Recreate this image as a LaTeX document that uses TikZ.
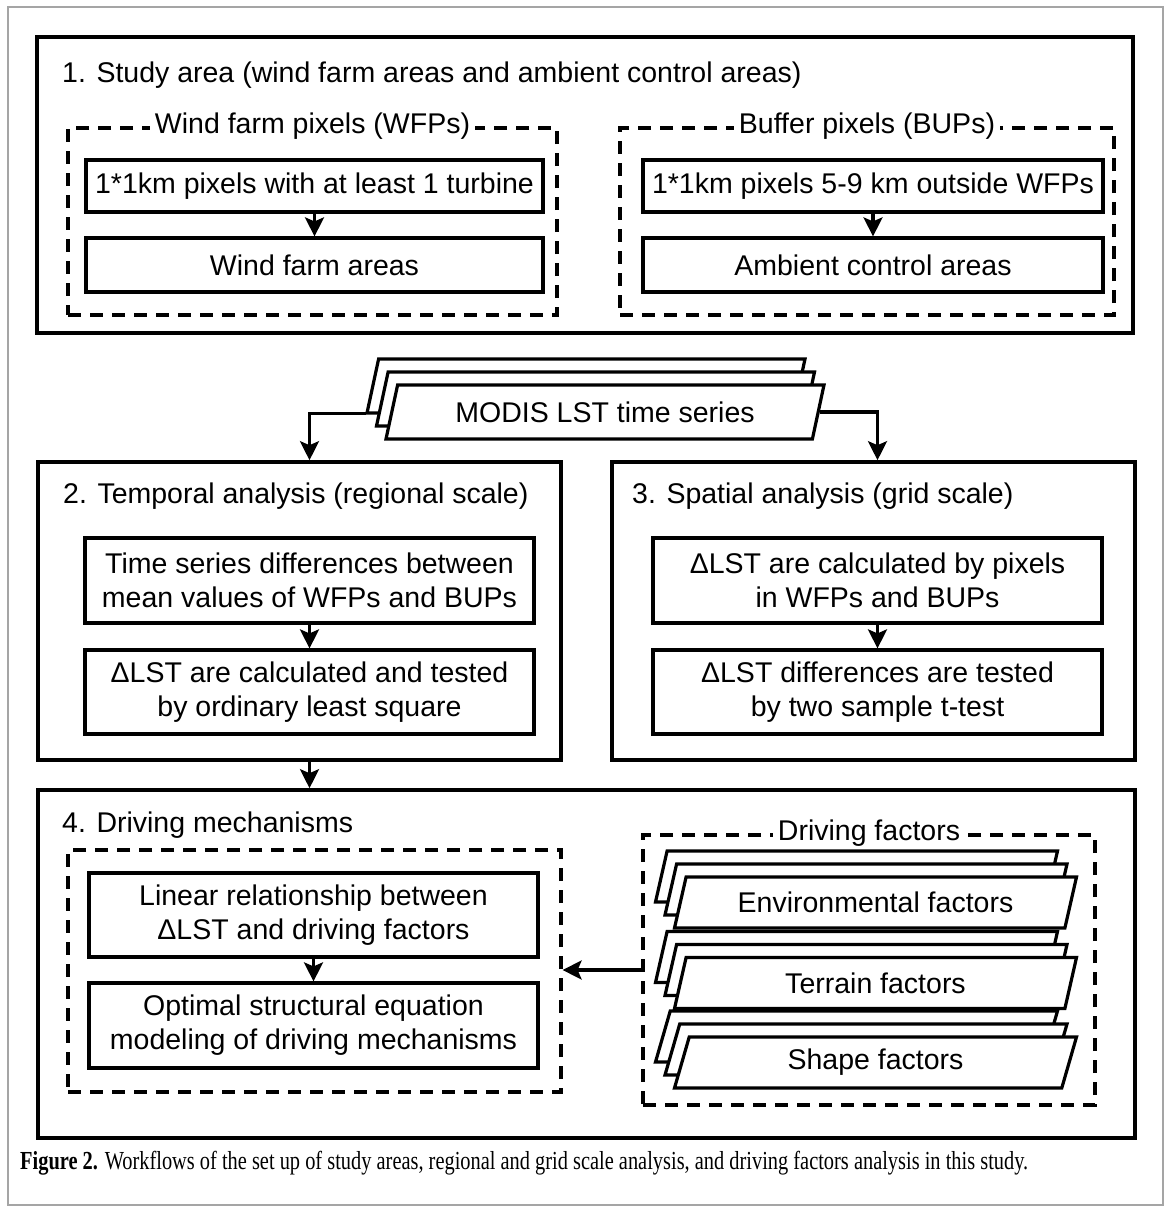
\documentclass[tikz,border=0pt]{standalone}
\usepackage{fontspec, graphicx}
\setmainfont{Liberation Sans}
\newfontfamily\capfont{Liberation Serif}
\definecolor{framegray}{RGB}{165, 165, 165}
\usetikzlibrary{shapes.geometric, shadows, arrows.meta, calc}
\tikzset{
    every node/.style={font=\fontsize{28.5}{34}\selectfont},
    mainbox/.style={draw, line width=3.6pt, inner sep=0pt},
    subbox/.style={draw, line width=3.2pt, inner sep=0pt, align=center},
    dashbox/.style={draw, line width=3.2pt, dash pattern=on 13pt off 9pt,
        inner sep=0pt},
    boxtitle/.style={anchor=base west, inner sep=0pt},
    dashtitle/.style={fill=white, inner sep=5pt},
    stack/.style={trapezium, trapezium left angle=61, trapezium right angle=119,
        trapezium stretches body, draw, fill=white, line width=3.2pt, inner sep=0pt,
        copy shadow={shadow xshift=-19pt, shadow yshift=26pt, line width=3.2pt},
        copy shadow={shadow xshift=-9.5pt, shadow yshift=13pt, line width=3.2pt}},
    flow/.style={line width=3.2pt, -{Stealth[length=19pt, width=19pt, inset=4pt]}},
}

\begin{document}
\begin{tikzpicture}[x=1pt, y=-1pt]
    \useasboundingbox (0, 0) rectangle (1171, 1211);
    \draw[framegray, line width=1.5pt] (8, 7) rectangle (1163, 1205);

    \node[mainbox, minimum width=1096pt, minimum height=296pt] (study) at (585, 185) {};
    \node[boxtitle] at (62, 82) {1. Study area (wind farm areas and ambient control areas)};
    \node[dashbox, minimum width=489pt, minimum height=187pt] (wfp) at (312.5, 221.5) {};
    \node[dashtitle] at (wfp.north) {Wind farm pixels (WFPs)};
    \node[subbox, minimum width=457pt, minimum height=52pt] (turbine) at (314.5, 186)
        {1*1km pixels with at least 1 turbine};
    \node[subbox, minimum width=457pt, minimum height=54pt] (wfarea) at (314.5, 265)
        {Wind farm areas};
    \node[dashbox, minimum width=494pt, minimum height=187pt] (bup) at (867, 221.5) {};
    \node[dashtitle] at (bup.north) {Buffer pixels (BUPs)};
    \node[subbox, minimum width=460pt, minimum height=52pt] (outside) at (873, 186)
        {1*1km pixels 5-9 km outside WFPs};
    \node[subbox, minimum width=460pt, minimum height=54pt] (ctrlarea) at (873, 265)
        {Ambient control areas};
    \draw[flow] (turbine) -- (wfarea);
    \draw[flow] (outside) -- (ctrlarea);

    \node[stack, minimum width=438pt, minimum height=54pt] (modis) at (605, 412)
        {MODIS LST time series};
    \coordinate (modisback) at ($(modis.bottom left corner)+(-18, -27)$);

    \node[mainbox, minimum width=523pt, minimum height=298pt] (temporal) at (299.5, 611) {};
    \node[boxtitle] at (63, 503) {2. Temporal analysis (regional scale)};
    \node[subbox, minimum width=449pt, minimum height=85pt] (meandiff) at (309.5, 580.5)
        {Time series differences between\\mean values of WFPs and BUPs};
    \node[subbox, minimum width=449pt, minimum height=84pt] (ols) at (309.5, 692)
        {ΔLST are calculated and tested\\by ordinary least square};
    \draw[flow] (meandiff) -- (ols);

    \node[mainbox, minimum width=523pt, minimum height=298pt] (spatial) at (873.5, 611) {};
    \node[boxtitle] at (632, 503) {3. Spatial analysis (grid scale)};
    \node[subbox, minimum width=449pt, minimum height=85pt] (bypixel) at (877.5, 580.5)
        {ΔLST are calculated by pixels\\in WFPs and BUPs};
    \node[subbox, minimum width=449pt, minimum height=84pt] (ttest) at (877.5, 692)
        {ΔLST differences are tested\\by two sample t-test};
    \draw[flow] (bypixel) -- (ttest);

    \draw[flow] (modisback) -| (meandiff.north |- temporal.north);
    \draw[flow] (modis.east) -| (bypixel.north |- spatial.north);

    \node[mainbox, minimum width=1097pt, minimum height=348pt] (driving) at (586.5, 964) {};
    \node[boxtitle] at (62, 832) {4. Driving mechanisms};
    \node[dashbox, minimum width=493pt, minimum height=242pt] (mech) at (314.5, 971) {};
    \node[subbox, minimum width=449pt, minimum height=84pt] (linear) at (313.5, 915)
        {Linear relationship between\\ΔLST and driving factors};
    \node[subbox, minimum width=449pt, minimum height=85pt] (sem) at (313.5, 1025.5)
        {Optimal structural equation\\modeling of driving mechanisms};
    \draw[flow] (linear) -- (sem);
    \draw[flow] (ols.south |- temporal.south) -- (ols.south |- driving.north);

    \node[dashbox, minimum width=452pt, minimum height=270pt] (factors) at (869, 970) {};
    \node[dashtitle] at (factors.north) {Driving factors};
    \node[stack, minimum width=402pt, minimum height=51pt] (envir) at (875.5, 902.5)
        {Environmental factors};
    \node[stack, minimum width=402pt, minimum height=51pt] (terrain) at (875.5, 983)
        {Terrain factors};
    \node[stack, minimum width=402pt, minimum height=51pt] (shape) at (875.5, 1062.5)
        {Shape factors};
    \draw[flow] (factors.west) -- (factors.west -| mech.east);

    \node[anchor=base west, inner sep=0pt] (caption) at (20, 1169)
        {\resizebox{1008pt}{\height}{\capfont\fontsize{26}{30}\selectfont
        \textbf{Figure 2.} Workflows of the set up of study areas, regional and grid
        scale analysis, and driving factors analysis in this study.}};
\end{tikzpicture}
\end{document}
